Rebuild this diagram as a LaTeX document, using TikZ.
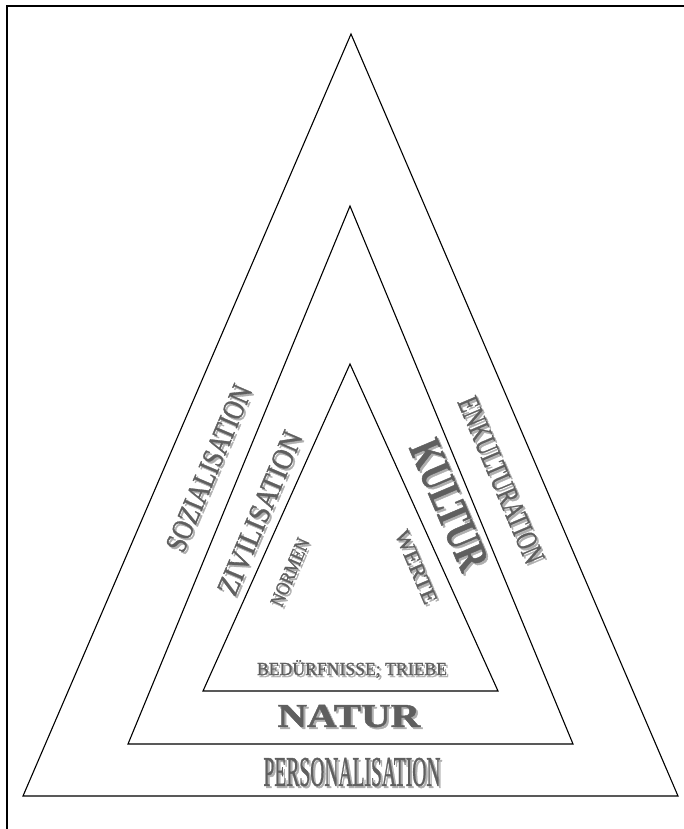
\documentclass[tikz,border=0pt]{standalone}
\usepackage{fontspec}
\setmainfont{Liberation Serif}
\newfontfamily\heavy[FakeBold=1.2]{Liberation Serif}
\usepackage{graphicx}
\definecolor{txt}{RGB}{95,95,95}
\definecolor{shd}{RGB}{175,175,175}
\newcommand\shlbl[7]{%
  \node[lbl, rotate=#4, text=shd] (#1s) at (#2+2,#3+2) {\resizebox{#5pt}{#6pt}{\heavy #7}};
  \node[lbl, rotate=#4, text=txt] (#1) at (#2,#3) {\resizebox{#5pt}{#6pt}{\heavy #7}};}
\begin{document}
\begin{tikzpicture}[x=1pt,y=-1pt,
  tri/.style={draw=black,line width=1.1pt,line join=miter},
  frame/.style={draw=black,line width=1.2pt},
  lbl/.style={inner sep=0pt,outer sep=0pt}]
\useasboundingbox (0,0) rectangle (684,829);
% frame
\coordinate (f1) at (7,829);
\coordinate (f2) at (7,6);
\coordinate (f3) at (684,6);
\draw[frame] (f1) -- (f2) -- (f3);
% triangles
\coordinate (A1) at (351,34);  \coordinate (B1) at (23,796);  \coordinate (C1) at (678,796);
\coordinate (A2) at (350,206); \coordinate (B2) at (128,744); \coordinate (C2) at (573,744);
\coordinate (A3) at (350,364); \coordinate (B3) at (203,691); \coordinate (C3) at (498,691);
\draw[tri] (A1) -- (B1) -- (C1) -- cycle;
\draw[tri] (A2) -- (B2) -- (C2) -- cycle;
\draw[tri] (A3) -- (B3) -- (C3) -- cycle;
% labels
\shlbl{soz}{209}{468}{67}{178}{20}{SOZIALISATION}
\shlbl{ziv}{260}{513}{67}{175}{20}{ZIVILISATION}
\shlbl{norm}{290}{572}{67}{72}{13}{NORMEN}
\shlbl{enk}{501}{480}{-67}{178}{20}{ENKULTURATION}
\shlbl{kul}{449}{505}{-67}{137}{30}{\textbf{KULTUR}}
\shlbl{wer}{416}{567}{-67}{78}{14}{WERTE}
\shlbl{bed}{352}{669}{0}{190}{15}{BEDÜRFNISSE; TRIEBE}
\shlbl{nat}{349}{716}{0}{143}{22}{\textbf{NATUR}}
\shlbl{pers}{352}{772}{0}{177}{28}{PERSONALISATION}
\end{tikzpicture}
\end{document}
